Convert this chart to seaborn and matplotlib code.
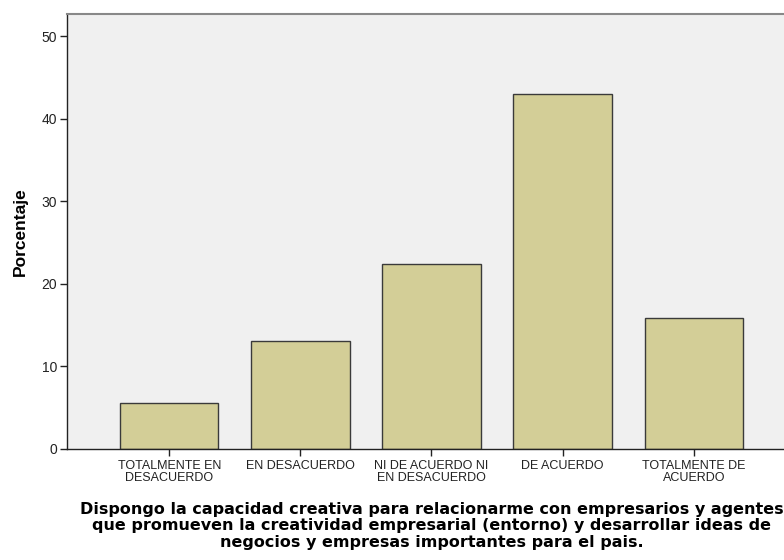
"""Gráfico de barras estilo SPSS: porcentaje por categoría de respuesta."""
import matplotlib
matplotlib.use("Agg")
import matplotlib.pyplot as plt
import pandas as pd
import seaborn as sns

categorias = [
    "TOTALMENTE EN\nDESACUERDO",
    "EN DESACUERDO",
    "NI DE ACUERDO NI\nEN DESACUERDO",
    "DE ACUERDO",
    "TOTALMENTE DE\nACUERDO",
]
porcentajes = [5.6, 13.1, 22.4, 43.0, 15.9]
ticks_y = [0, 10, 20, 30, 40, 50]

sns.set_theme(style="white")
plt.rcParams["font.family"] = ["Liberation Sans", "DejaVu Sans"]

df = pd.DataFrame({"categoria": categorias, "porcentaje": porcentajes})

fig = plt.figure(figsize=(7.84, 5.6), dpi=100)
ax = fig.add_axes([67 / 784, 111 / 560, 729 / 784, 435 / 560])
ax.set_facecolor("#f0f0f0")

sns.barplot(data=df, x="categoria", y="porcentaje", color="#d3ce97",
            edgecolor="#3a3a3a", linewidth=1.0, width=0.75, saturation=1,
            ax=ax)

ax.set_xlim(-0.78, 4.78)
ax.set_ylim(0, 52.7)
ax.set_yticks(ticks_y)
ax.tick_params(axis="both", direction="out", length=5, width=1,
               bottom=True, left=True, color="#222222",
               labelcolor="#222222", pad=2)
ax.tick_params(axis="x", labelsize=9, pad=3)
ax.tick_params(axis="y", labelsize=10)
for t in ax.get_xticklabels():
    t.set_linespacing(0.95)

for lado in ["left", "bottom"]:
    ax.spines[lado].set_color("#222222")
    ax.spines[lado].set_linewidth(1.0)
ax.spines["top"].set_color("#888888")
ax.spines["top"].set_linewidth(1.5)
ax.spines["right"].set_visible(False)

ax.set_ylabel("Porcentaje", fontsize=12.5, fontweight="bold", labelpad=10,
              color="black")
ax.set_xlabel(
    "Dispongo la capacidad creativa para relacionarme con empresarios y agentes\n"
    "que promueven la creatividad empresarial (entorno) y desarrollar ideas de\n"
    "negocios y empresas importantes para el pais.",
    fontsize=11.5, fontweight="bold", family="DejaVu Sans", linespacing=1.12,
    labelpad=13, color="black",
)

fig.savefig("out.png", dpi=100)
